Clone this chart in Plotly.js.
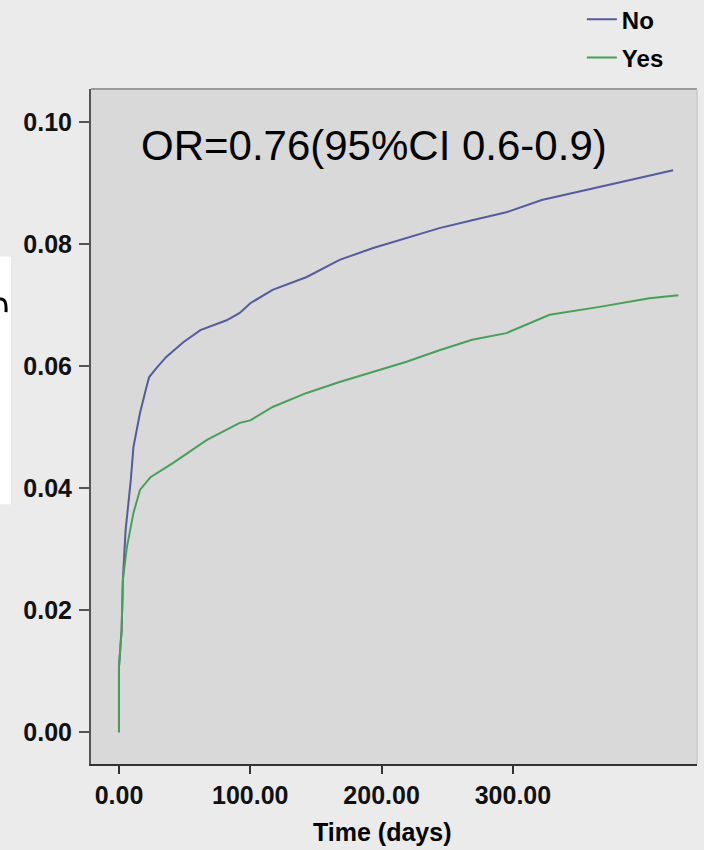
<!DOCTYPE html>
<html>
<head>
<meta charset="utf-8">
<script src="https://cdn.plot.ly/plotly-3.0.1.min.js"></script>
<style>html,body{margin:0;padding:0;background:#ebebeb;}</style>
</head>
<body>
<div id="chart" style="width:704px;height:850px;"></div>
<script>
// Time (days) and cumulative incidence
var timeNo = [0, 0, 2, 3, 5, 9, 11, 16, 21, 23, 29, 36, 49, 62, 82, 92, 100, 117, 143, 168, 193, 219, 244, 269, 295, 322, 358, 396, 422];
var valNo  = [0, 0.0107, 0.0167, 0.025, 0.033, 0.0413, 0.0467, 0.0523, 0.0566, 0.0582, 0.0598, 0.0615, 0.0639, 0.0659, 0.0675, 0.0687, 0.0703, 0.0725, 0.0746, 0.0774, 0.0793, 0.081, 0.0826, 0.0839, 0.0852, 0.0872, 0.0889, 0.0908, 0.0921];
var timeYes = [0, 0, 2, 3, 6, 11, 16, 24, 41, 67, 92, 100, 117, 143, 168, 193, 219, 244, 269, 295, 328, 366, 404, 426];
var valYes  = [0, 0.0107, 0.0167, 0.025, 0.0303, 0.0359, 0.0397, 0.0418, 0.0441, 0.0479, 0.0507, 0.0511, 0.0533, 0.0556, 0.0574, 0.059, 0.0607, 0.0626, 0.0643, 0.0654, 0.0684, 0.0697, 0.0711, 0.0716];
var seriesNames = ["No", "Yes"];
var xTicks = [0, 100, 200, 300];
var yTicks = [0, 0.02, 0.04, 0.06, 0.08, 0.10];
var orText = "OR=0.76(95%CI 0.6-0.9)";
var xTitle = "Time (days)";

var font = "Liberation Sans, Arial, sans-serif";

var traces = [
  {x: timeNo, y: valNo, name: seriesNames[0], mode: "lines", legendgroup: "a",
   line: {color: "#545b9e", width: 2}},
  {x: timeYes, y: valYes, name: seriesNames[1], mode: "lines", legendgroup: "b",
   line: {color: "#45a157", width: 2}}
];

var layout = {
  width: 704, height: 850,
  paper_bgcolor: "#ebebeb",
  plot_bgcolor: "#d9d9d9",
  margin: {l: 91, r: 7, t: 89, b: 86, autoexpand: false},
  showlegend: true,
  legend: {
    x: 0.81, y: 1.136, xanchor: "left", yanchor: "top",
    bgcolor: "rgba(0,0,0,0)",
    font: {family: font, size: 24, color: "#000", weight: "bold"},
    itemwidth: 30, traceorder: "grouped", tracegroupgap: 4
  },
  xaxis: {
    range: [-21.3, 440.2],
    tickvals: xTicks, tickformat: ".2f",
    ticks: "outside", ticklen: 8, tickwidth: 2, tickcolor: "#333",
    showline: true, linecolor: "#333", linewidth: 2,
    showgrid: false, zeroline: false,
    tickfont: {family: font, size: 25, color: "#111", weight: "bold"},
    ticklabelstandoff: 0
  },
  yaxis: {
    range: [-0.0052, 0.1054],
    tickvals: yTicks, tickformat: ".2f",
    ticks: "outside", ticklen: 10, tickwidth: 2, tickcolor: "#555",
    showline: true, linecolor: "#555", linewidth: 2,
    showgrid: false, zeroline: false,
    tickfont: {family: font, size: 25, color: "#111", weight: "bold"},
    ticklabelstandoff: 2
  },
  shapes: [
    {type: "line", xref: "paper", yref: "paper", x0: 0, x1: 1, y0: 1, y1: 1,
     line: {color: "#9a9a9a", width: 2}},
    {type: "line", xref: "paper", yref: "paper", x0: 1, x1: 1, y0: 0, y1: 1,
     line: {color: "#c8c8c8", width: 1.5}},
    {type: "rect", xref: "paper", yref: "paper", x0: -0.2, x1: -0.132, y0: 0.385, y1: 0.752,
     fillcolor: "#ffffff", line: {width: 0}, layer: "below"},
    {type: "path", xref: "paper", yref: "paper",
     path: "M -0.1502,0.6889 Q -0.1386,0.6904 -0.1403,0.6696",
     line: {color: "#000", width: 3}}
  ],
  annotations: [
    {x: 15, y: 0.0962, xref: "x", yref: "y", text: orText, showarrow: false,
     xanchor: "left", yanchor: "middle",
     font: {family: font, size: 42, color: "#000"}},
    {x: 200, y: -0.1007, xref: "x", yref: "paper", text: xTitle, showarrow: false,
     xanchor: "center", yanchor: "middle",
     font: {family: font, size: 25, color: "#000", weight: "bold"}}
  ]
};

Plotly.newPlot("chart", traces, layout, {displayModeBar: false, staticPlot: true});
</script>
</body>
</html>
